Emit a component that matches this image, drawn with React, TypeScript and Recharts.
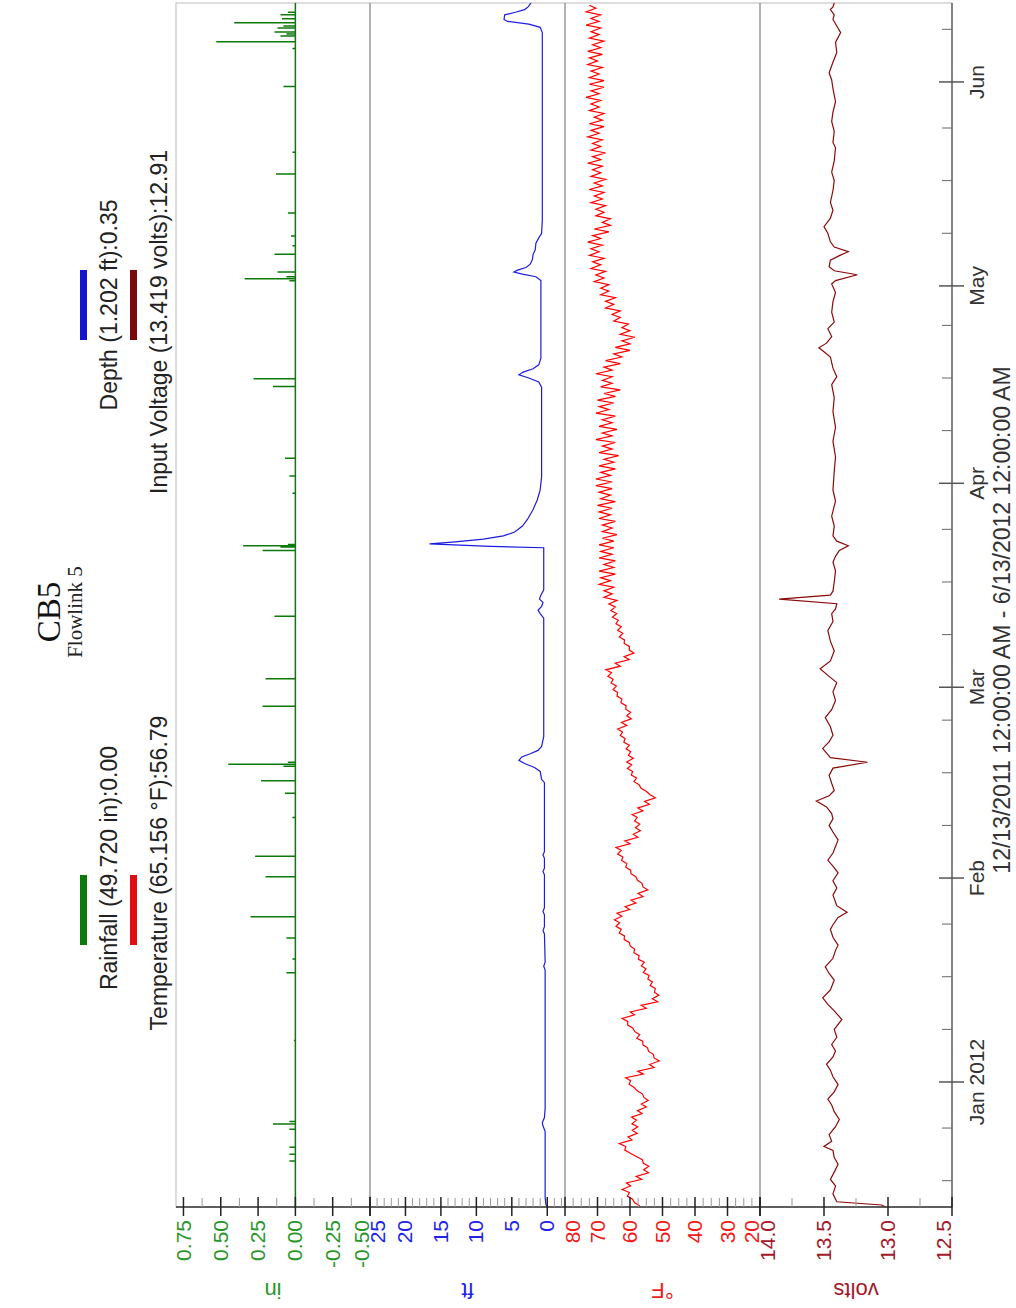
import React from 'react'
import { LineChart, Line, XAxis, YAxis } from 'recharts'

// the chart is drawn landscape and then turned a quarter turn, like the scanned report
const W = 1308
const H = 1016
const SANS = '"Liberation Sans", Arial, sans-serif'
const SERIF = '"Liberation Serif", "Times New Roman", serif'

// time = days after 12/13/2011 12:00 AM, window ends 6/13/2012
const DAYS = 183
const monthDays = [19, 50, 79, 110, 140, 171]
const monthNames = ['Jan 2012', 'Feb', 'Mar', 'Apr', 'May', 'Jun']
const weekDays = [4, 12, 27, 35, 43, 58, 66, 74, 87, 95, 103, 118, 126, 134, 148, 156, 164, 179]

// rainfall (in), one entry per tip
const rainDay = [7.0, 8.0, 9.1, 11.8, 12.6, 13.0, 25.3, 35.6, 37.7, 40.9, 44.1, 50.2, 53.3, 59.2, 62.9, 64.8, 67.0, 67.3, 67.6,
  76.1, 80.3, 89.8, 99.8, 100.3, 100.5, 100.7, 108.5, 111.1, 113.8, 124.7, 125.9, 140.8, 141.1, 141.4, 142.1, 144.8, 146.1,
  147.6, 151.1, 157.0, 160.3, 170.3, 176.1, 177.1, 178.0, 178.3, 178.6, 179.2, 179.5, 180.0, 180.6, 181.2, 181.6]
const rainIn = [0.04, 0.04, 0.04, 0.04, 0.15, 0.04, 0.01, 0.06, 0.02, 0.06, 0.30, 0.20, 0.27, 0.02, 0.07, 0.23, 0.08, 0.45, 0.05,
  0.22, 0.20, 0.14, 0.22, 0.10, 0.35, 0.05, 0.02, 0.04, 0.07, 0.15, 0.28, 0.04, 0.34, 0.06, 0.12, 0.14, 0.02,
  0.03, 0.05, 0.13, 0.02, 0.08, 0.02, 0.53, 0.10, 0.06, 0.14, 0.12, 0.08, 0.41, 0.09, 0.10, 0.05]

// depth (ft)
const depthDay = [0, 0.4, 1.5, 11.5, 12.3, 12.8, 13.6, 15, 36, 36.6, 37.2, 41.5, 42, 42.6, 44.4, 44.9, 45.5, 50.5, 51, 51.5,
  53, 53.5, 54, 64.5, 65, 66.2, 66.8, 67.4, 67.9, 68.4, 68.9, 69.4, 70, 71.5, 89.5, 90.2, 90.7, 91.3, 91.9, 92.4, 93, 93.8,
  100.2, 100.4, 100.8, 101.1, 101.5, 102, 102.6, 103.5, 104.5, 106, 107.5, 109, 111, 124.6, 125.4, 126, 126.5, 126.9, 127.4,
  128, 129, 134, 138, 140.8, 141.4, 141.8, 142.1, 142.4, 142.8, 143.3, 144, 144.8, 145.5, 146.5, 147.3, 148, 150, 178.5,
  179.3, 179.8, 180.2, 180.5, 181.2, 181.6, 182, 182.4, 183]
const depthFt = [0.0, 0.2, 0.3, 0.3, 0.6, 0.7, 0.4, 0.3, 0.3, 0.5, 0.3, 0.4, 0.6, 0.4, 0.4, 0.6, 0.4, 0.4, 0.6, 0.4,
  0.4, 0.6, 0.4, 0.4, 0.8, 1.0, 1.8, 3.2, 4.0, 3.6, 2.4, 1.3, 0.8, 0.5, 0.5, 1.0, 1.3, 0.8, 0.6, 1.1, 0.9, 0.5,
  0.5, 8.0, 16.6, 13.0, 9.0, 6.2, 4.6, 3.5, 2.8, 2.0, 1.4, 1.0, 0.8, 0.8, 1.2, 2.6, 4.0, 3.4, 2.0,
  1.2, 0.9, 0.9, 0.9, 0.9, 1.6, 3.5, 4.7, 4.2, 3.0, 2.4, 2.1, 2.0, 1.7, 1.6, 1.2, 0.8, 0.7, 0.7,
  1.0, 2.6, 5.6, 6.1, 6.0, 4.5, 3.2, 2.7, 2.3]

// temperature (°F), daily low and high, Dec 13 .. Jun 12
const tempLow = [
  57.0, 59.2, 60.2, 59.8, 56.4, 54.3, 54.2, 56.2, 60.0, 61.3, 59.4, 57.8, 57.6, 58.0, 56.3, 55.0, 54.4, 56.2, 58.8,
  59.8, 55.9, 52.6, 51.0, 52.8, 54.6, 56.1, 57.0, 59.2, 60.7, 58.6, 55.0, 51.5, 51.1, 52.2, 53.1, 54.1, 55.1, 55.6, 57.2, 58.6, 60.2, 61.7, 62.7, 63.2, 62.5, 60.1, 58.2, 56.0, 54.5, 56.3,
  58.2, 59.8, 61.0, 62.2, 62.7, 60.0, 57.6, 56.8, 57.0, 57.8, 56.0, 54.0, 52.2, 55.0, 57.2, 58.0, 59.2, 59.5, 59.0, 59.8, 60.2, 61.5, 62.3, 61.0, 59.6, 59.8, 61.2, 62.5, 63.8,
  64.2, 65.2, 65.7, 63.0, 60.2, 58.8, 60.2, 61.7, 62.2, 62.7, 63.6, 64.1, 64.5,
  64.0, 65.5, 65.0, 66.0, 64.5, 65.0, 64.5, 65.5, 65.0, 65.0, 64.0, 65.5, 64.5, 66.0, 65.5, 64.5, 66.0, 65.5,
  65.5, 66.0, 64.5, 65.0, 63.5, 65.5, 64.5, 65.5, 64.0, 65.5, 64.5, 66.5, 65.0, 64.5, 63.0, 65.5, 65.5, 65.5, 63.0, 62.5, 60.0, 60.0, 58.5, 60.0, 60.5, 63.0, 63.0, 65.0, 64.5, 66.5,
  66.5, 68.0, 67.5, 69.0, 68.0, 69.5, 68.5, 69.0, 66.5, 66.0, 66.0, 68.0, 67.5, 68.5, 68.0, 68.5, 67.5, 69.0, 68.5, 69.0, 67.5, 69.0, 68.5, 69.5, 68.0, 68.5, 68.0, 69.5, 69.0, 69.5, 68.0,
  68.0, 69.5, 68.5, 70.0, 68.5, 69.0, 68.0, 69.5, 69.0, 69.5, 69.0, 70.5,
]
const tempHigh = [
  58.6, 60.8, 62.4, 61.1, 58.1, 55.8, 55.9, 57.9, 61.6, 63.3, 60.6, 59.3, 59.4, 59.5, 57.7, 56.5, 55.7, 57.8, 60.3,
  61.3, 57.6, 54.0, 52.6, 54.3, 56.0, 57.9, 58.5, 60.7, 62.4, 59.9, 56.6, 53.1, 52.5, 53.8, 54.5, 55.9, 56.5, 57.4, 58.8, 59.9, 61.8, 63.3, 64.3, 64.8, 64.0, 61.5, 59.7, 57.5, 56.0, 57.7,
  59.7, 61.3, 62.6, 63.8, 64.3, 61.6, 59.0, 58.3, 58.6, 59.3, 57.6, 55.5, 53.8, 56.6, 58.8, 59.6, 60.8, 61.0, 60.5, 61.2, 61.9, 63.0, 63.8, 62.6, 61.0, 61.3, 62.8, 64.0, 65.2,
  65.8, 66.8, 67.4, 64.5, 61.8, 60.2, 61.8, 63.3, 63.8, 64.3, 65.4, 65.9, 66.5,
  68.0, 68.0, 69.5, 69.0, 69.5, 68.0, 69.5, 69.0, 69.5, 68.5, 68.5, 68.5, 69.5, 69.5, 70.0, 69.0, 69.5, 70.5,
  70.5, 69.0, 69.5, 68.0, 69.5, 68.5, 70.5, 68.5, 69.5, 68.5, 70.5, 69.5, 70.0, 68.0, 69.0, 68.5, 70.5, 68.0, 67.5, 65.0, 64.5, 62.5, 63.0, 62.5, 65.0, 65.5, 67.5, 67.5, 69.0, 69.0,
  71.0, 70.5, 72.0, 71.5, 72.5, 72.0, 73.0, 71.5, 71.0, 68.5, 70.5, 70.5, 72.0, 71.0, 72.5, 71.0, 72.0, 71.5, 73.0, 71.5, 72.0, 71.5, 73.0, 72.0, 72.5, 71.0, 72.5, 72.0, 73.5, 72.0, 72.5,
  72.5, 72.0, 73.0, 72.5, 73.0, 71.5, 72.5, 72.0, 73.5, 72.0, 73.5, 72.5,
]

// input voltage (volts)
const voltDay = [0, 0.3, 0.8, 2, 3.2, 4.2, 5.3, 6.5, 7.5, 8.6, 9.2, 10, 11, 12.2, 13.3, 14.5, 15.5, 16.4, 17.5, 18.6,
  19.8, 20.8, 21.7, 22.8, 23.7, 24.7, 25.8, 27, 28.5, 29.8, 30.8, 31.8, 33, 34.5, 35.5, 36.5, 37.8, 39, 39.8, 41,
  42.2, 42.9, 44, 44.8, 45.8, 47.4, 48.5, 49.6, 50.8, 51.8, 52.7, 53.8, 54.8, 55.8, 57, 58, 59, 59.8, 60.8, 61.7,
  62.5, 63.3, 64.4, 65.6, 66.7, 67.6, 68.3, 69, 69.7, 70.7, 71.7, 73, 74.4, 75.6, 77, 78.3, 79.7, 80.8, 81.8, 83,
  84.5, 86, 87.6, 89, 90.2, 90.9, 91.7, 92.4, 93, 93.6, 95, 96.7, 98, 98.9, 99.8, 100.5, 101.2, 102, 103.5, 105,
  107.3, 109, 111.8, 114, 116.4, 118.5, 120.9, 123, 125, 126.2, 127.5, 129.2, 130, 130.6, 131.3, 132.3, 133.5, 134.5, 136, 137.6,
  139, 140.3, 140.8, 141.7, 142.3, 142.9, 143.9, 144.6, 145.2, 145.9, 146.7, 148, 149, 150.3, 151.5, 152.7, 154.5, 156, 157.3, 159,
  161, 161.8, 163.5, 165, 166.4, 168, 170, 171.3, 172.4, 174, 175.5, 177, 178.5, 179.5, 180.5, 181.2, 182, 182.4, 183]
const volts = [13.02, 13.05, 13.40, 13.43, 13.41, 13.45, 13.42, 13.39, 13.42, 13.43, 13.50, 13.44, 13.46, 13.41, 13.38, 13.42, 13.44, 13.47, 13.42, 13.39,
  13.43, 13.45, 13.48, 13.43, 13.41, 13.44, 13.40, 13.42, 13.36, 13.42, 13.47, 13.51, 13.45, 13.42, 13.46, 13.49, 13.43, 13.41, 13.39, 13.43,
  13.45, 13.43, 13.39, 13.32, 13.40, 13.43, 13.40, 13.43, 13.39, 13.43, 13.47, 13.43, 13.41, 13.39, 13.43, 13.46, 13.43, 13.44, 13.48, 13.56,
  13.46, 13.42, 13.44, 13.46, 13.43, 13.16, 13.45, 13.48, 13.51, 13.46, 13.43, 13.45, 13.49, 13.44, 13.41, 13.43, 13.40, 13.47, 13.53, 13.45,
  13.42, 13.45, 13.47, 13.43, 13.44, 13.41, 13.40, 13.85, 13.45, 13.43, 13.42, 13.41, 13.43, 13.41, 13.38, 13.31, 13.40, 13.43, 13.42, 13.44,
  13.41, 13.43, 13.42, 13.41, 13.43, 13.41, 13.43, 13.42, 13.44, 13.40, 13.43, 13.45, 13.50, 13.54, 13.48, 13.44, 13.47, 13.42, 13.44, 13.43,
  13.41, 13.44, 13.41, 13.24, 13.42, 13.46, 13.45, 13.38, 13.31, 13.42, 13.45, 13.47, 13.50, 13.45, 13.43, 13.45, 13.43, 13.42, 13.44, 13.42,
  13.41, 13.43, 13.42, 13.44, 13.43, 13.41, 13.43, 13.44, 13.46, 13.43, 13.40, 13.41, 13.37, 13.40, 13.43, 13.42, 13.45, 13.43, 13.42]

// axis ticks
const rainTicks = [-0.5, -0.375, -0.25, -0.125, 0, 0.125, 0.25, 0.375, 0.5, 0.625, 0.75]
const rainMajor = [-0.5, -0.25, 0, 0.25, 0.5, 0.75]
const depthTicks = [-2, -1, 0, 1, 2, 3, 4, 5, 6, 7, 8, 9, 10, 11, 12, 13, 14, 15, 16, 17, 18, 19, 20, 21, 22, 23, 24, 25]
const depthMajor = [0, 5, 10, 15, 20, 25]
const tempTicks = [20, 22.5, 25, 27.5, 30, 32.5, 35, 37.5, 40, 42.5, 45, 47.5, 50, 52.5, 55, 57.5, 60, 62.5, 65, 67.5, 70, 72.5, 75, 77.5, 80]
const tempMajor = [20, 30, 40, 50, 60, 70, 80]
const voltTicks = [12.5, 12.75, 13, 13.25, 13.5, 13.75, 14]
const voltMajor = [12.5, 13, 13.5, 14]

const rainData: { t: number; v: number }[] = [{ t: 0, v: 0 }]
rainDay.forEach((d, i) => rainData.push({ t: d, v: 0 }, { t: d, v: rainIn[i] }, { t: d, v: 0 }))
rainData.push({ t: DAYS, v: 0 })
const depthData = depthDay.map((t, i) => ({ t, v: depthFt[i] }))
const tempData = tempLow.flatMap((lo, i) => [{ t: i + 0.2, v: lo }, { t: i + 0.65, v: tempHigh[i] }])
const voltData = voltDay.map((t, i) => ({ t, v: volts[i] }))

// labels at the panel edges are pushed back inside the panel, as in the original
const valueTick = (major: number[], color: string, digits: number, h: number) => (p: any) => {
  const { x, y, payload } = p
  const v = payload.value
  if (!major.some((m) => Math.abs(m - v) < 1e-9)) {
    return <line x1={x} x2={x + 9} y1={y} y2={y} stroke="#999" />
  }
  const ly = Math.min(Math.max(y, 8), h - 8)
  return (
    <g>
      <line x1={x - 9} x2={x + 10} y1={y} y2={y} stroke="#222" strokeWidth={1.5} />
      <text x={x - 13} y={ly} dy={7} textAnchor="end" fill={color} fontSize={21} fontFamily={SANS}>
        {v.toFixed(digits)}
      </text>
    </g>
  )
}

const timeTick = (p: any) => {
  const { x, y, payload } = p
  const i = monthDays.indexOf(payload.value)
  if (i < 0) return <line x1={x} x2={x} y1={y - 10} y2={y} stroke="#666" />
  return (
    <g>
      <line x1={x} x2={x} y1={y - 13} y2={y + 12} stroke="#555" strokeWidth={1.5} />
      <text x={x} y={y + 32} textAnchor="middle" fill="#333" fontSize={21} fontFamily={SANS}>
        {monthNames[i]}
      </text>
    </g>
  )
}

const panels = [
  { top: 176, h: 194, data: rainData, domain: [-0.5, 0.8], ticks: rainTicks, major: rainMajor, digits: 2, color: '#2a962a', stroke: '#0b7a0b', unit: 'in' },
  { top: 370, h: 195, data: depthData, domain: [-2.5, 25], ticks: depthTicks, major: depthMajor, digits: 0, color: '#2323e8', stroke: '#1c1ce0', unit: 'ft' },
  { top: 565, h: 195, data: tempData, domain: [20, 80], ticks: tempTicks, major: tempMajor, digits: 0, color: '#ee1c1c', stroke: '#ff0000', unit: '°F' },
  { top: 760, h: 192, data: voltData, domain: [12.5, 14], ticks: voltTicks, major: voltMajor, digits: 1, color: '#a3182a', stroke: '#8b0a0a', unit: 'volts' },
]

const legend = [
  { bar: 398, cx: 440, y: 117, color: '#0b7a0b', text: 'Rainfall (49.720 in):0.00' },
  { bar: 398, cx: 435, y: 167, color: '#e01010', text: 'Temperature (65.156 °F):56.79' },
  { bar: 1003, cx: 1003, y: 117, color: '#1515d0', text: 'Depth (1.202 ft):0.35' },
  { bar: 1003, cx: 986, y: 167, color: '#7a0a0a', text: 'Input Voltage (13.419 volts):12.91' },
]

export default function App() {
  return (
    <div style={{ position: 'absolute', left: 0, top: 0, width: 1016, height: 1308, overflow: 'hidden', background: '#fff' }}>
      <style>{'.recharts-surface{overflow:visible}'}</style>
      <div style={{ position: 'absolute', left: 0, top: 0, width: W, height: H, transformOrigin: '0 0', transform: `translate(0px, ${W}px) rotate(-90deg)` }}>
        <svg width={W} height={H} style={{ position: 'absolute', left: 0, top: 0 }}>
          <text x={696} y={60} textAnchor="middle" fontFamily={SERIF} fontSize={33} fill="#111">CB5</text>
          <text x={696} y={82} textAnchor="middle" fontFamily={SERIF} fontSize={21} fill="#222">Flowlink 5</text>
          {legend.map((l) => (
            <g key={l.text}>
              <rect x={l.bar - 35} y={l.y - 37} width={70} height={7} fill={l.color} />
              <text x={l.cx} y={l.y} textAnchor="middle" fontFamily={SANS} fontSize={23} fill="#222">{l.text}</text>
            </g>
          ))}
          <rect x={101} y={176} width={1204} height={776} fill="none" stroke="#bbb" />
          {panels.slice(1).map((p) => (
            <line key={p.unit} x1={101} x2={1305} y1={p.top} y2={p.top} stroke="#999" strokeWidth={1.5} />
          ))}
          {panels.map((p) => (
            <text key={p.unit} x={25} y={p.top + p.h / 2} transform={`rotate(-90 25 ${p.top + p.h / 2})`} textAnchor="middle"
              fontFamily={SANS} fontSize={22} fill={p.color}>{p.unit}</text>
          ))}
          <text x={688} y={1010} textAnchor="middle" fontFamily={SANS} fontSize={23} fill="#333">
            12/13/2011 12:00:00 AM - 6/13/2012 12:00:00 AM
          </text>
        </svg>
        {panels.map((p, k) => {
          const last = k === panels.length - 1
          return (
            <div key={p.unit} style={{ position: 'absolute', left: 0, top: p.top }}>
              <LineChart width={W} height={p.h + (last ? 64 : 0)} data={p.data} margin={{ top: 0, right: 3, bottom: 0, left: 0 }}>
                <XAxis type="number" dataKey="t" domain={[0, DAYS]} hide={!last} height={64}
                  ticks={[...monthDays, ...weekDays].sort((a, b) => a - b)} interval={0}
                  tickSize={0} tickMargin={0} tickLine={false} axisLine={{ stroke: '#666', strokeWidth: 1.5 }} tick={timeTick} />
                <YAxis type="number" domain={p.domain} allowDataOverflow ticks={p.ticks} interval={0} width={101}
                  tickSize={0} tickMargin={0} tickLine={false} axisLine={{ stroke: '#333', strokeWidth: 1.5 }}
                  tick={valueTick(p.major, p.color, p.digits, p.h)} />
                <Line type="linear" dataKey="v" stroke={p.stroke} strokeWidth={k === 0 ? 1.5 : 1.2} dot={false}
                  isAnimationActive={false} />
              </LineChart>
            </div>
          )
        })}
      </div>
    </div>
  )
}
